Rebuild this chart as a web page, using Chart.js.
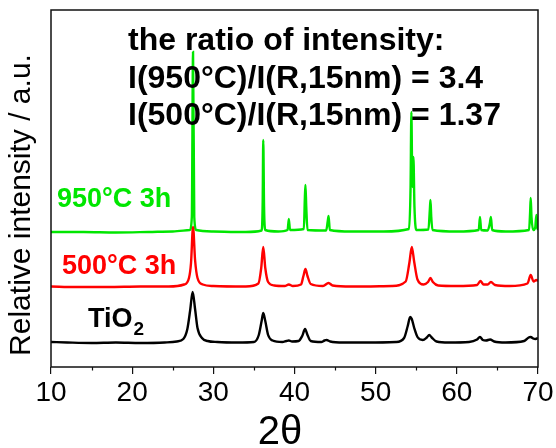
<!DOCTYPE html>
<html>
<head>
<meta charset="utf-8">
<script src="https://cdn.jsdelivr.net/npm/chart.js@4.4.0/dist/chart.umd.min.js"></script>
<style>
  html, body { margin: 0; padding: 0; background: #fff; }
  #wrap { width: 556px; height: 448px; }
</style>
</head>
<body>
<div id="wrap"><canvas id="xrd" width="556" height="448"></canvas></div>
<script>
// XRD patterns, stacked with an offset
const xTicks = [10, 20, 30, 40, 50, 60, 70];
const minorTicks = [15, 25, 35, 45, 55, 65];

const tio2Theta = [10, 12, 15, 18, 21, 24, 25.5, 26.3, 26.8, 27.15, 27.45, 27.75, 28.05, 28.6, 29.3, 30.5, 33, 35.0, 35.6, 35.95, 36.15, 36.4, 36.75, 37.3, 38.5, 39.0, 39.3, 39.7, 40.5, 40.95, 41.3, 41.6, 42.0, 43.3, 43.7, 43.95, 44.4, 46, 49, 52.5, 53.5, 53.95, 54.25, 54.45, 54.75, 55.15, 55.8, 56.3, 56.6, 56.9, 57.5, 59, 61.5, 62.5, 62.85, 63.2, 63.6, 64.1, 64.6, 66, 68.3, 68.85, 69.1, 69.4, 69.7, 70];
const tio2Counts = [25, 24.5, 24, 24.5, 24, 24.5, 25.5, 28, 38, 57, 75, 58, 39, 29, 26, 25, 24.5, 25, 32, 46, 54, 46, 32, 26.5, 25, 26, 26.5, 25.5, 26, 31, 38, 32, 26, 25, 26.5, 27, 25.5, 24.5, 24.5, 25, 29, 41, 50, 48, 39, 30, 27, 29.5, 32, 29.5, 25.5, 24.5, 25, 27.5, 30, 27, 26.5, 27.5, 25.5, 24.5, 26, 29.5, 30, 28.5, 28, 29];

const t500Theta = [10, 13, 17, 21, 24.5, 26.4, 27.0, 27.25, 27.5, 27.75, 28.05, 28.7, 30, 34, 35.55, 35.9, 36.15, 36.4, 36.75, 37.5, 38.8, 39.3, 39.8, 40.8, 41.1, 41.35, 41.6, 42.0, 43.5, 44.2, 44.7, 47, 52, 53.7, 54.15, 54.45, 54.75, 55.15, 55.9, 56.45, 56.75, 57.05, 57.7, 60, 62.5, 62.9, 63.3, 63.8, 64.2, 64.7, 66.5, 68.7, 69.1, 69.45, 69.8, 70];
const t500Counts = [80.5, 80, 80, 80.5, 80.5, 82.5, 89, 104, 140, 107, 89, 82.5, 81, 80.5, 83.5, 99, 120, 99, 85, 81.5, 81, 82.5, 81, 82.5, 91, 98, 91, 83, 81, 84, 81.5, 80.5, 81, 85.5, 104, 120, 105, 87.5, 82.5, 85, 89, 85, 81.5, 81, 82, 86, 82.5, 82.5, 85, 82, 81, 83.5, 92, 85.5, 87, 86];

const t950Theta = [10, 14, 18, 22, 25, 27.1, 27.35, 27.5, 27.65, 27.9, 30, 34, 35.95, 36.08, 36.15, 36.25, 36.4, 38, 39.15, 39.3, 39.45, 41.15, 41.28, 41.35, 41.45, 41.6, 43.9, 44.1, 44.2, 44.35, 47, 51, 54.1, 54.3, 54.4, 54.52, 54.65, 54.78, 55.0, 56.5, 56.68, 56.75, 56.85, 57.0, 60, 62.7, 62.85, 63.0, 63.8, 64.05, 64.2, 64.35, 66, 68.9, 69.03, 69.1, 69.2, 69.4, 69.65, 69.8, 69.92, 70];
const t950Counts = [135, 135, 134.5, 135, 135.5, 137, 150, 315, 150, 137, 135.5, 135, 136.5, 165, 227, 160, 137, 135.5, 137, 148, 137, 138, 170, 182, 160, 137, 136.5, 146, 151, 137, 135.5, 135.5, 138, 180, 255, 180, 210, 160, 137, 137.5, 158, 167, 150, 137, 135.5, 137, 150, 137, 136.5, 143, 150, 137, 135.5, 137, 155, 169, 150, 137, 139, 152, 140, 137];

const pts = (xs, ys) => xs.map((x, i) => ({ x: x, y: ys[i] }));

const FONT = 'Arial, "Liberation Sans", sans-serif';

const decorations = {
    id: 'decorations',
    afterDraw(chart) {
        const ctx = chart.ctx;
        const a = chart.chartArea;
        const xs = chart.scales.x;
        ctx.save();
        // frame
        ctx.strokeStyle = '#111';
        ctx.lineWidth = 1.5;
        ctx.strokeRect(a.left, a.top, a.right - a.left, a.bottom - a.top);
        // minor ticks
        ctx.lineWidth = 1.2;
        minorTicks.forEach(v => {
            const px = Math.round(xs.getPixelForValue(v)) + 0.5;
            ctx.beginPath();
            ctx.moveTo(px, a.bottom);
            ctx.lineTo(px, a.bottom + 3.5);
            ctx.stroke();
        });

        // texts
        ctx.textBaseline = 'alphabetic';
        ctx.textAlign = 'left';
        ctx.fillStyle = '#000';
        ctx.font = 'bold 32px ' + FONT;
        ctx.fillText('the ratio of intensity:', 128, 50);
        ctx.fillText('I(950\u00b0C)/I(R,15nm) = 3.4', 128, 88);
        ctx.fillText('I(500\u00b0C)/I(R,15nm) = 1.37', 128, 125);

        ctx.font = 'bold 27px ' + FONT;
        ctx.fillStyle = '#00e600';
        ctx.fillText('950\u00b0C 3h', 57, 207);
        ctx.fillStyle = '#ff0000';
        ctx.fillText('500\u00b0C 3h', 62, 274);
        ctx.fillStyle = '#000';
        ctx.fillText('TiO', 88, 327);
        const w = ctx.measureText('TiO').width;
        ctx.font = 'bold 19px ' + FONT;
        ctx.fillText('2', 88 + w + 1, 335);

        // axis titles
        ctx.font = '30px ' + FONT;
        ctx.textAlign = 'center';
        ctx.textBaseline = 'middle';
        ctx.translate(22, 205);
        ctx.rotate(-Math.PI / 2);
        ctx.fillText('Relative intensity / a.u.', 0, 0);
        ctx.setTransform(1, 0, 0, 1, 0, 0);
        ctx.font = '40px ' + FONT;
        ctx.textBaseline = 'alphabetic';
        ctx.fillText('2\u03b8', 280, 444);
        ctx.restore();
    }
};

const chart = new Chart(document.getElementById('xrd'), {
    type: 'line',
    data: {
        datasets: [
            { label: 'TiO2', data: pts(tio2Theta, tio2Counts), borderColor: '#000000' },
            { label: '500C 3h', data: pts(t500Theta, t500Counts), borderColor: '#ff0000' },
            { label: '950C 3h', data: pts(t950Theta, t950Counts), borderColor: '#00e600' }
        ]
    },
    options: {
        responsive: false,
        animation: false,
        layout: { padding: { top: 10, right: 18, left: 0, bottom: 0 } },
        elements: {
            point: { radius: 0 },
            line: { borderWidth: 2.4, cubicInterpolationMode: 'monotone', fill: false }
        },
        plugins: { legend: { display: false }, tooltip: { enabled: false } },
        scales: {
            x: {
                type: 'linear',
                min: 10, max: 70,
                afterBuildTicks: s => { s.ticks = xTicks.map(v => ({ value: v })); },
                afterFit: s => { s.height = 81; },
                border: { display: false },
                grid: { drawOnChartArea: false, drawTicks: true, tickLength: 7, color: '#111', lineWidth: 1.2 },
                ticks: { color: '#000', padding: 2, maxRotation: 0, font: { family: FONT, size: 28 } }
            },
            y: {
                min: 0, max: 357,
                afterFit: s => { s.width = 51; },
                border: { display: false },
                grid: { display: false },
                ticks: { display: false }
            }
        }
    },
    plugins: [decorations]
});
</script>
</body>
</html>
